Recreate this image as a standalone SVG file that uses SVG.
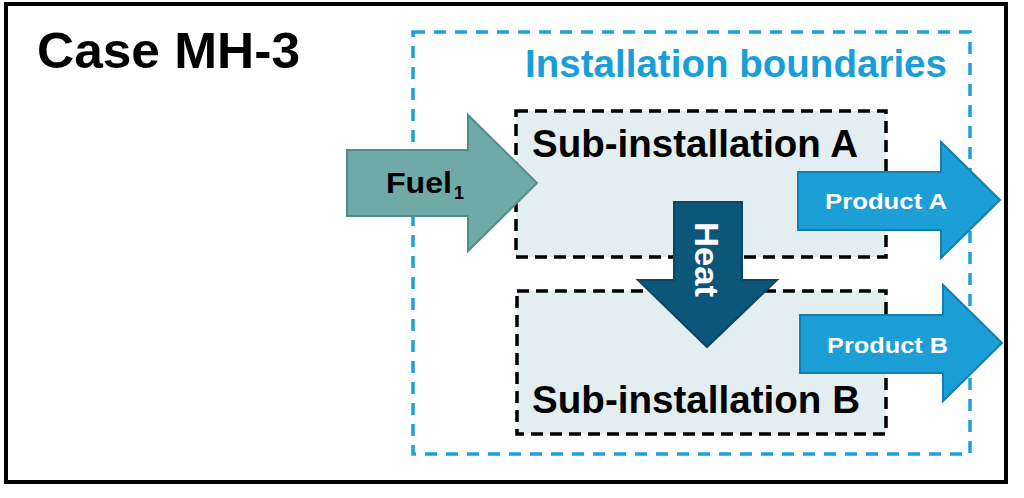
<svg xmlns="http://www.w3.org/2000/svg" width="1024" height="498" viewBox="0 0 1024 498">
<style>
.t{font-family:"Liberation Sans",Arial,sans-serif;font-weight:bold}
.sub{fill:#e3eef0;stroke:#000;stroke-width:3.5;stroke-dasharray:12 7}
.prod{fill:#1b9fd6;stroke:#137fb0;stroke-width:2}
</style>
<rect width="1024" height="498" fill="#fff"/>
<g id="frame">
<rect x="6" y="4" width="1000" height="478" fill="#fff" stroke="#000" stroke-width="4"/>
<text class="t" x="37" y="68" font-size="50" fill="#000" textLength="263" lengthAdjust="spacingAndGlyphs">Case MH-3</text>
</g>
<g id="installation">
<rect x="413" y="32" width="557" height="422" fill="none" stroke="#1ea0dc" stroke-width="3.5" stroke-dasharray="12 9"/>
<text class="t" x="525" y="77" font-size="39" fill="#1a9ed8" textLength="422" lengthAdjust="spacingAndGlyphs">Installation boundaries</text>
</g>
<g id="subA">
<rect class="sub" x="516" y="111" width="370" height="146"/>
<text class="t" x="532" y="157" font-size="38" fill="#000" textLength="326" lengthAdjust="spacingAndGlyphs">Sub-installation A</text>
</g>
<g id="subB">
<rect class="sub" x="517" y="291" width="369" height="143"/>
<text class="t" x="532" y="413" font-size="38" fill="#000" textLength="328" lengthAdjust="spacingAndGlyphs">Sub-installation B</text>
</g>
<g id="connectors">
<g id="fuel">
<polygon points="347,150 468,150 468,115 537,183 468,251 468,216 347,216" fill="#6faaa9" stroke="#4f8d8c" stroke-width="2"/>
<text class="t" x="386" y="193" font-size="30" fill="#000" textLength="66" lengthAdjust="spacingAndGlyphs">Fuel</text>
<text class="t" x="454" y="199" font-size="18" fill="#000">1</text>
</g>
<g id="heat">
<polygon points="674,202 742,202 742,280 777,280 707,347 638,280 674,280" fill="#0c5679" stroke="#0a4666" stroke-width="2"/>
<text class="t" transform="translate(695,222) rotate(90)" x="0" y="0" font-size="34" fill="#fff" textLength="75" lengthAdjust="spacingAndGlyphs">Heat</text>
</g>
<g id="productA">
<polygon class="prod" points="798,172 941,172 941,142 1000,200 941,258 941,230 798,230"/>
<text class="t" x="825" y="209" font-size="22" fill="#fff" textLength="122" lengthAdjust="spacingAndGlyphs">Product A</text>
</g>
<g id="productB">
<polygon class="prod" points="800,315 943,315 943,285 1002,343 943,401 943,373 800,373"/>
<text class="t" x="827" y="353" font-size="22" fill="#fff" textLength="121" lengthAdjust="spacingAndGlyphs">Product B</text>
</g>
</g>
</svg>
